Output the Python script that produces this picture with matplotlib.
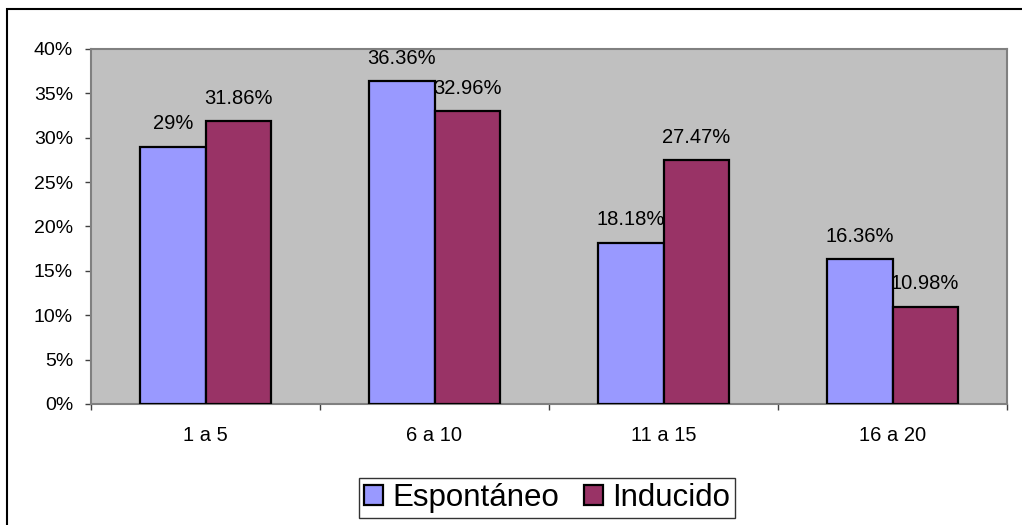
import numpy as np
import matplotlib
matplotlib.use('Agg')
import matplotlib.pyplot as plt
from matplotlib.patches import Rectangle
from matplotlib.ticker import FixedLocator, FuncFormatter

plt.rcParams['font.family'] = ['Liberation Sans', 'DejaVu Sans']

# edad de inicio por grupos
categorias = ['1 a 5', '6 a 10', '11 a 15', '16 a 20']
espontaneo = [29.0, 36.36, 18.18, 16.36]
inducido = [31.86, 32.96, 27.47, 10.98]
etiq_esp = ['29%', '36.36%', '18.18%', '16.36%']
etiq_ind = ['31.86%', '32.96%', '27.47%', '10.98%']

fig = plt.figure(figsize=(10.22, 5.25), dpi=100)
ax = fig.add_axes([91/1022, 1 - 404/525, 916/1022, 355/525])
ax.set_facecolor('#C0C0C0')

x = np.arange(len(categorias))
w = 0.284
b1 = ax.bar(x - w/2, espontaneo, w, color='#9999FF', edgecolor='black',
            linewidth=1.6, label='Espontáneo', zorder=3)
b2 = ax.bar(x + w/2, inducido, w, color='#993366', edgecolor='black',
            linewidth=1.6, label='Inducido', zorder=3)

for barras, etiquetas in ((b1, etiq_esp), (b2, etiq_ind)):
    for r, t in zip(barras, etiquetas):
        ax.annotate(t, (r.get_x() + r.get_width()/2, r.get_height()),
                    xytext=(0, 9.5), textcoords='offset points',
                    ha='center', va='bottom', fontsize=14.5, zorder=4)

ax.set_xlim(-0.5, len(categorias) - 0.5)
ax.set_ylim(0, 40)
ax.set_yticks(np.arange(0, 41, 5))
ax.yaxis.set_major_formatter(FuncFormatter(lambda v, p: '%d%%' % v))
ax.tick_params(axis='y', length=4.3, width=1, color='#404040', pad=8.6,
               labelsize=14)

ax.xaxis.set_major_locator(FixedLocator(np.arange(-0.5, len(categorias), 1)))
ax.xaxis.set_minor_locator(FixedLocator(x))
ax.set_xticklabels([])
ax.set_xticklabels(categorias, minor=True)
ax.tick_params(axis='x', which='major', length=4.3, width=1, color='#404040')
ax.tick_params(axis='x', which='minor', length=0, pad=16, labelsize=14.5)

for s in ax.spines.values():
    s.set_color('#808080')
    s.set_linewidth(1.5)

leg = fig.legend(loc='center', bbox_to_anchor=(547/1022, 1 - 498/525),
                 ncol=2, fontsize=22.5, frameon=True, fancybox=False,
                 edgecolor='black', handlelength=0.6, handleheight=0.6,
                 handletextpad=0.3, columnspacing=0.8, borderpad=0.15,
                 borderaxespad=0)
leg.get_frame().set_linewidth(1.0)

# marco exterior del grafico
fig.patches.append(Rectangle((7/1022, -0.1), 1.2, 1 - 9/525 + 0.1,
                             transform=fig.transFigure, fill=False,
                             edgecolor='black', linewidth=1.5))

fig.savefig('out.png', dpi=100)
